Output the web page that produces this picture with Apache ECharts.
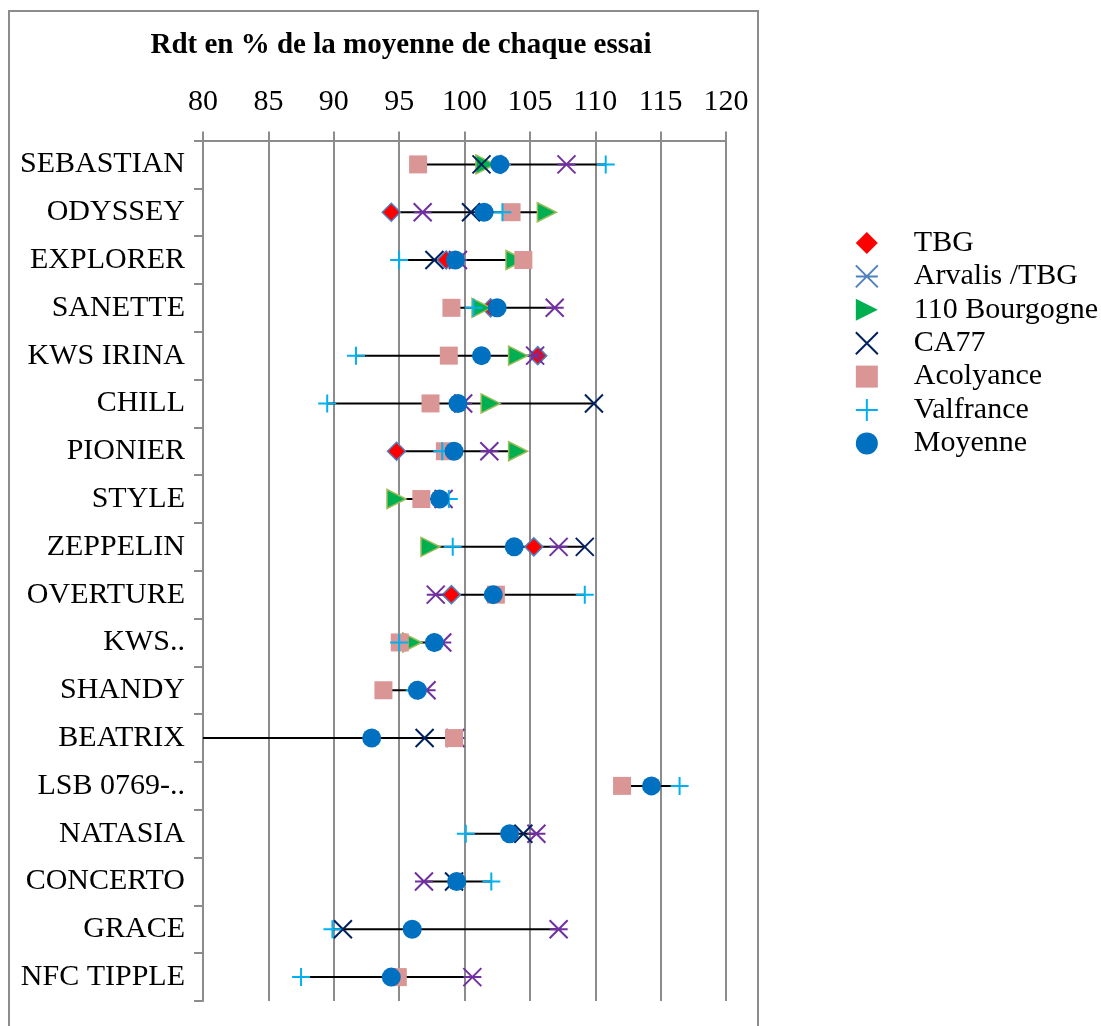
<!DOCTYPE html>
<html>
<head>
<meta charset="utf-8">
<script src="https://cdn.jsdelivr.net/npm/echarts@6/dist/echarts.min.js"></script>
<style>html,body{margin:0;padding:0;background:#fff;}#chart{width:1101px;height:1026px;}</style>
</head>
<body>
<div id="chart"></div>
<script>
const categories = ["SEBASTIAN","ODYSSEY","EXPLORER","SANETTE","KWS IRINA","CHILL","PIONIER","STYLE","ZEPPELIN","OVERTURE","KWS..","SHANDY","BEATRIX","LSB 0769-..","NATASIA","CONCERTO","GRACE","NFC TIPPLE"];
const xTicks = [80, 85, 90, 95, 100, 105, 110, 115, 120];

const tbg        = [102.8, 94.4, 98.6, 102.0, 105.6, null, 94.8, null, 105.3, 99.0, null, null, null, null, null, null, null, null];
const arvalis    = [107.8, 96.8, 99.5, 106.9, 105.4, 99.9, 101.9, 98.4, 107.2, 97.8, 98.3, 97.1, 99.3, null, 105.5, 96.9, 107.2, 100.6];
const bourgogne  = [101.6, 106.3, 103.9, 101.3, 104.1, 102.0, 104.1, 94.8, 97.4, null, 96.0, null, null, null, null, null, null, null];
const ca77       = [101.3, 100.5, 97.7, null, null, 109.9, null, null, 109.2, null, null, null, 96.95, null, 104.5, 99.2, 90.7, null];
const acolyance  = [96.45, 103.6, 104.5, 99.0, 98.8, 97.4, 98.5, 96.7, null, 102.4, 95.05, 93.8, 99.2, 112.05, null, null, null, 94.9];
const valfrance  = [110.8, 102.9, 95.0, 100.7, 91.7, 89.5, 98.3, 98.8, 99.1, 109.2, 95.0, 96.2, null, 116.45, 100.1, 102.05, 89.9, 87.5];
const moyenne    = [102.7, 101.5, 99.3, 102.5, 101.3, 99.5, 99.2, 98.1, 103.8, 102.2, 97.7, 96.4, 92.9, 114.3, 103.45, 99.4, 96.0, 94.4];
// off-scale low end of the BEATRIX range line (marker below 80, not visible)
const offScaleLow = [null, null, null, null, null, null, null, null, null, null, null, null, 79, null, null, null, null, null];

const allSeries = [tbg, arvalis, bourgogne, ca77, acolyance, valfrance, moyenne, offScaleLow];
const rangeData = categories.map((c, i) => {
  const vals = allSeries.map(a => a[i]).filter(v => v !== null && v !== undefined);
  return [Math.min(...vals), Math.max(...vals), i];
});
function pts(arr) { return arr.map((v, i) => v === null ? null : [v, i]).filter(d => d); }

const P_AST = 'path://M0 0 L10 10 M10 0 L0 10 M0 5 L10 5';
const P_X = 'path://M0 0 L10 10 M10 0 L0 10';
const P_PLUS = 'path://M5 0 L5 10 M0 5 L10 5';
const P_TRI = 'path://M0 0 L10 5 L0 10 Z';
const P_DIA = 'path://M5 0 L10 5 L5 10 L0 5 Z';
const P_SQ = 'path://M0 0 L10 0 L10 10 L0 10 Z';

const FONT = "'Liberation Serif', 'Times New Roman', serif";
const GRID = '#8c8c8c';

const chart = echarts.init(document.getElementById('chart'), null, {renderer: 'canvas'});
chart.setOption({
  animation: false,
  backgroundColor: '#fff',
  graphic: [
    {type: 'rect', shape: {x: 9, y: 11, width: 749, height: 1030}, style: {fill: 'none', stroke: GRID, lineWidth: 2}, z: -1, silent: true},
    {type: 'text', x: 401, y: 46, style: {text: 'Rdt en % de la moyenne de chaque essai', font: "bold 29px " + FONT, fill: '#000', align: 'center', verticalAlign: 'middle'}, silent: true}
  ],
  grid: {left: 203, top: 140.5, right: 375, bottom: 25, containLabel: false},
  xAxis: {
    type: 'value', position: 'top', min: 80, max: 120, interval: 5,
    axisLine: {show: true, lineStyle: {color: GRID, width: 2}},
    axisTick: {show: true, length: 9, lineStyle: {color: GRID, width: 2}},
    splitLine: {show: true, lineStyle: {color: GRID, width: 2}},
    axisLabel: {fontFamily: FONT, fontSize: 30, color: '#000', margin: 23,
      formatter: v => xTicks.indexOf(v) >= 0 ? String(v) : ''}
  },
  yAxis: {
    type: 'category', inverse: true, data: categories,
    axisLine: {show: true, lineStyle: {color: GRID, width: 2}},
    axisTick: {show: true, length: 9, lineStyle: {color: GRID, width: 2}},
    splitLine: {show: false},
    axisLabel: {fontFamily: FONT, fontSize: 30, color: '#000', margin: 18, padding: [4, 0, 0, 0]}
  },
  legend: {
    orient: 'vertical', right: 3, top: 228, padding: 0, itemGap: 3.4,
    itemWidth: 84, itemHeight: 22, selectedMode: false, align: 'left',
    textStyle: {fontFamily: FONT, fontSize: 30, color: '#000'},
    data: [
      {name: 'TBG', icon: P_DIA, itemStyle: {color: '#FF0000', borderWidth: 0}},
      {name: 'Arvalis /TBG', icon: P_AST, itemStyle: {color: 'rgba(0,0,0,0)', borderColor: '#4F81BD', borderWidth: 2}},
      {name: '110 Bourgogne', icon: P_TRI, itemStyle: {color: '#00B050', borderWidth: 0}},
      {name: 'CA77', icon: P_X, itemStyle: {color: 'rgba(0,0,0,0)', borderColor: '#002060', borderWidth: 2}},
      {name: 'Acolyance', icon: P_SQ, itemStyle: {color: '#D99694', borderWidth: 0}},
      {name: 'Valfrance', icon: P_PLUS, itemStyle: {color: 'rgba(0,0,0,0)', borderColor: '#00B0F0', borderWidth: 2}},
      {name: 'Moyenne', icon: 'circle', itemStyle: {color: '#0070C0', borderWidth: 0}}
    ]
  },
  series: [
    {
      type: 'custom', name: 'range', clip: true, z: 1, silent: true,
      data: rangeData,
      encode: {x: [0, 1], y: 2},
      renderItem: function (params, api) {
        const a = api.coord([api.value(0), api.value(2)]);
        const b = api.coord([api.value(1), api.value(2)]);
        return {type: 'line', shape: {x1: a[0], y1: a[1], x2: b[0], y2: b[1]}, style: {stroke: '#000', lineWidth: 2}};
      }
    },
    {type: 'scatter', name: 'TBG', z: 2, symbol: 'diamond', symbolSize: 18, data: pts(tbg),
      itemStyle: {color: '#FF0000', borderColor: '#4F81BD', borderWidth: 1.5, opacity: 1}},
    {type: 'scatter', name: 'Arvalis /TBG', z: 3, symbol: P_AST, symbolSize: 18, data: pts(arvalis),
      itemStyle: {color: 'rgba(0,0,0,0)', borderColor: '#7030A0', borderWidth: 2, opacity: 1}},
    {type: 'scatter', name: '110 Bourgogne', z: 4, symbol: P_TRI, symbolSize: [19, 19], data: pts(bourgogne),
      itemStyle: {color: '#00B050', borderColor: '#9BBB59', borderWidth: 1.5, opacity: 1}},
    {type: 'scatter', name: 'CA77', z: 5, symbol: P_X, symbolSize: 18, data: pts(ca77),
      itemStyle: {color: 'rgba(0,0,0,0)', borderColor: '#002060', borderWidth: 2, opacity: 1}},
    {type: 'scatter', name: 'Acolyance', z: 6, symbol: 'rect', symbolSize: 18, data: pts(acolyance),
      itemStyle: {color: '#D99694', opacity: 1}},
    {type: 'scatter', name: 'Valfrance', z: 7, symbol: P_PLUS, symbolSize: 18, data: pts(valfrance),
      itemStyle: {color: 'rgba(0,0,0,0)', borderColor: '#00B0F0', borderWidth: 2, opacity: 1}},
    {type: 'scatter', name: 'Moyenne', z: 8, symbol: 'circle', symbolSize: 19, data: pts(moyenne),
      itemStyle: {color: '#0070C0', opacity: 1}}
  ]
});
</script>
</body>
</html>
